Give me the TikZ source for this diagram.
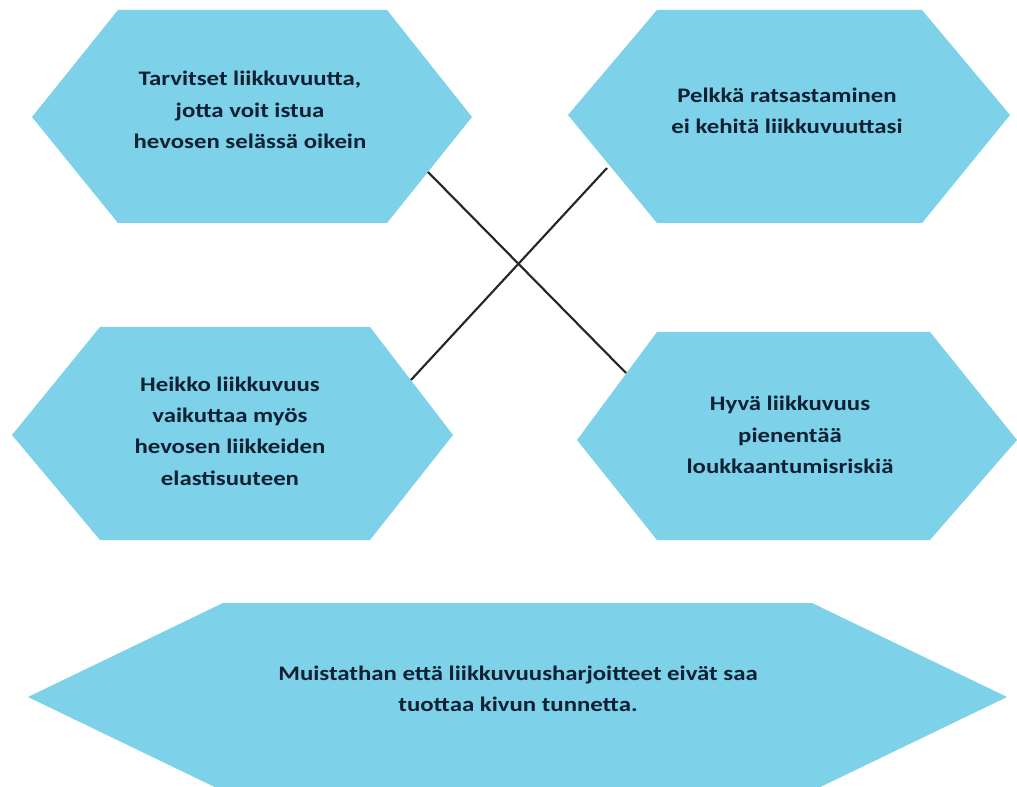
\documentclass[tikz,border=0pt]{standalone}
\usepackage{fontspec}
\setmainfont{Carlito}
\newfontfamily\hexfont{Carlito}[FakeStretch=1.2]
\definecolor{hexfill}{HTML}{7DD1E8}
\definecolor{hextext}{HTML}{0F2033}
\begin{document}
\begin{tikzpicture}[x=0.75pt,y=-0.75pt,
  hexshape/.style={fill=hexfill,draw=none},
  hexlabel/.style={align=center,text=hextext,font=\hexfont\fontsize{15.5}{23.5}\selectfont\bfseries,inner sep=0pt},
  link/.style={draw=black!85,line width=1.6pt}]
\useasboundingbox (0,0) rectangle (1017,787);
% hexagons
\path[hexshape] (118,10) -- (387,10) -- (472,117) -- (387,223) -- (118,223) -- (32,117) -- cycle;
\path[hexshape] (657,10) -- (922,10) -- (1010,115) -- (922,223) -- (657,223) -- (568,115) -- cycle;
\path[hexshape] (100,327) -- (370,327) -- (453,435) -- (370,540) -- (100,540) -- (12,435) -- cycle;
\path[hexshape] (657,332) -- (930,332) -- (1017,440) -- (930,540) -- (657,540) -- (577,440) -- cycle;
\path[hexshape] (223,603) -- (812,603) -- (1007,697) -- (812,791) -- (223,791) -- (28,697) -- cycle;
% labels
\node[hexlabel] (t1) at (250,110) {Tarvitset liikkuvuutta,\\jotta voit istua\\hevosen selässä oikein};
\node[hexlabel] (t2) at (787,111) {Pelkkä ratsastaminen\\ei kehitä liikkuvuuttasi};
\node[hexlabel] (t3) at (230,431) {Heikko liikkuvuus\\vaikuttaa myös\\hevosen liikkeiden\\elastisuuteen};
\node[hexlabel] (t4) at (790,435) {Hyvä liikkuvuus\\pienentää\\loukkaantumisriskiä};
\node[hexlabel] (t5) at (518,689) {Muistathan että liikkuvuusharjoitteet eivät saa\\tuottaa kivun tunnetta.};
% connector ends
\coordinate (a1) at (428,172);
\coordinate (a4) at (626,373);
\coordinate (a2) at (607,168);
\coordinate (a3) at (411,380);
\draw[link] (a1) -- (a4);
\draw[link] (a2) -- (a3);
\end{tikzpicture}
\end{document}
